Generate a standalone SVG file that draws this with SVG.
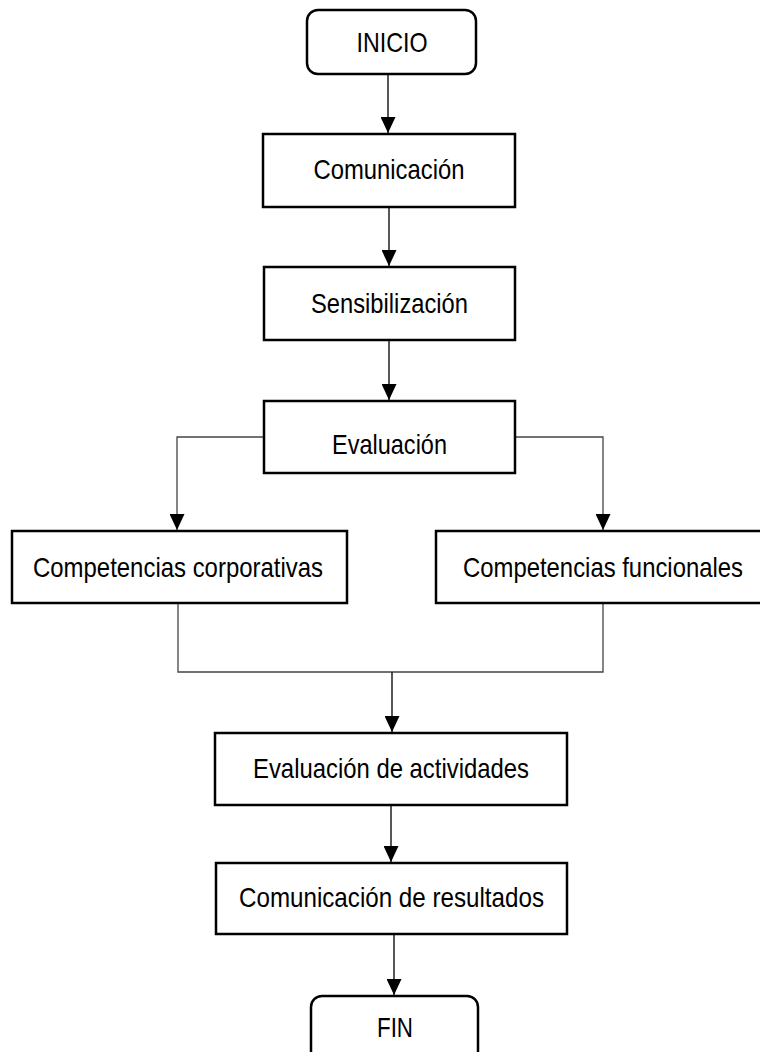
<svg xmlns="http://www.w3.org/2000/svg" width="760" height="1052" viewBox="0 0 760 1052">
<style>
.box{fill:#fff;stroke:#000;stroke-width:2.5}
.lbl{font-family:"Liberation Sans",Arial,sans-serif;font-size:28px;fill:#000;text-anchor:middle}
.c{fill:none;stroke:#111;stroke-width:1.4}
.b{fill:none;stroke:#444;stroke-width:1.3}
</style>
<defs>
<marker id="ah" markerUnits="userSpaceOnUse" markerWidth="16" markerHeight="15" refX="16" refY="7.5" orient="auto">
<path d="M0,0 L16,7.5 L0,15 Z" fill="#000"/>
</marker>
</defs>
<rect width="760" height="1052" fill="#fff"/>
<g id="connectors">
<line class="c" x1="388" y1="74" x2="388" y2="133" marker-end="url(#ah)"/>
<line class="c" x1="389" y1="207" x2="389" y2="266" marker-end="url(#ah)"/>
<line class="c" x1="389" y1="340" x2="389" y2="400" marker-end="url(#ah)"/>
<polyline class="b" points="264,437 177,437 177,530" marker-end="url(#ah)"/>
<polyline class="b" points="515,437 603,437 603,530" marker-end="url(#ah)"/>
<polyline class="b" points="178,603 178,672 603,672 603,603"/>
<line class="c" x1="392" y1="672" x2="392" y2="732" marker-end="url(#ah)"/>
<line class="c" x1="391" y1="805" x2="391" y2="862" marker-end="url(#ah)"/>
<line class="c" x1="394" y1="934" x2="394" y2="995" marker-end="url(#ah)"/>
</g>
<g id="inicio">
<rect class="box" x="307" y="10" width="169" height="64" rx="11"/>
<text class="lbl" x="392" y="52" textLength="71" lengthAdjust="spacingAndGlyphs">INICIO</text>
</g>
<g id="comunicacion">
<rect class="box" x="263" y="134" width="252" height="73"/>
<text class="lbl" x="389" y="179" textLength="151" lengthAdjust="spacingAndGlyphs">Comunicación</text>
</g>
<g id="sensibilizacion">
<rect class="box" x="264" y="267" width="251" height="73"/>
<text class="lbl" x="389.5" y="313" textLength="157" lengthAdjust="spacingAndGlyphs">Sensibilización</text>
</g>
<g id="evaluacion">
<rect class="box" x="264" y="401" width="251" height="72"/>
<text class="lbl" x="389.5" y="454" textLength="115" lengthAdjust="spacingAndGlyphs">Evaluación</text>
</g>
<g id="corporativas">
<rect class="box" x="12" y="531" width="335" height="72"/>
<text class="lbl" x="178" y="577" textLength="290" lengthAdjust="spacingAndGlyphs">Competencias corporativas</text>
</g>
<g id="funcionales">
<rect class="box" x="436" y="531" width="340" height="72"/>
<text class="lbl" x="603" y="577" textLength="280" lengthAdjust="spacingAndGlyphs">Competencias funcionales</text>
</g>
<g id="actividades">
<rect class="box" x="215" y="733" width="352" height="72"/>
<text class="lbl" x="391" y="778" textLength="276" lengthAdjust="spacingAndGlyphs">Evaluación de actividades</text>
</g>
<g id="resultados">
<rect class="box" x="216" y="863" width="351" height="71"/>
<text class="lbl" x="391.5" y="907" textLength="305" lengthAdjust="spacingAndGlyphs">Comunicación de resultados</text>
</g>
<g id="fin">
<rect class="box" x="311" y="996" width="167" height="70" rx="11"/>
<text class="lbl" x="395" y="1037" textLength="36" lengthAdjust="spacingAndGlyphs">FIN</text>
</g>
</svg>
